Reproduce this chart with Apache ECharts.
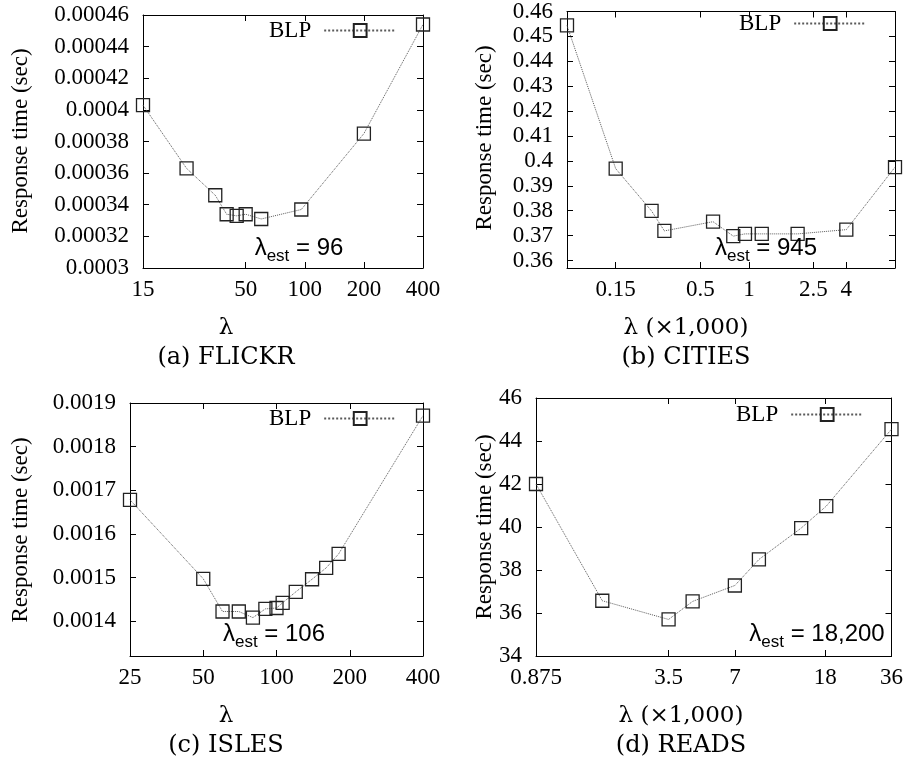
<!DOCTYPE html>
<html>
<head>
<meta charset="utf-8">
<script src="https://cdn.jsdelivr.net/npm/echarts@6/dist/echarts.min.js"></script>
<style>
  html, body { margin: 0; padding: 0; background: #fff; }
  #chart { width: 906px; height: 762px; }
</style>
</head>
<body>
<div id="chart"></div>
<script>
// (a) FLICKR
const flickrLambda = [15, 25, 35, 40, 45, 50, 60, 96, 200, 400];
const flickrTime = [0.000403, 0.000363, 0.000346, 0.000334, 0.000333, 0.000334, 0.000331, 0.000337, 0.000385, 0.000454];
const flickrXTicks = [15, 50, 100, 200, 400];
const flickrYTicks = [0.0003, 0.00032, 0.00034, 0.00036, 0.00038, 0.0004, 0.00042, 0.00044, 0.00046];

// (b) CITIES, lambda in thousands
const citiesLambda = [0.075, 0.15, 0.25, 0.3, 0.6, 0.8, 0.945, 1.2, 2, 4, 8];
const citiesTime = [0.4544, 0.3969, 0.3799, 0.3719, 0.3756, 0.3698, 0.3707, 0.3707, 0.3707, 0.3724, 0.3975];
const citiesXTicks = [0.15, 0.5, 1, 2.5, 4];
const citiesYTicks = [0.36, 0.37, 0.38, 0.39, 0.4, 0.41, 0.42, 0.43, 0.44, 0.45, 0.46];

// (c) ISLES
const islesLambda = [25, 50, 60, 70, 80, 90, 100, 106, 120, 140, 160, 180, 400];
const islesTime = [0.001678, 0.001497, 0.001422, 0.001422, 0.001408, 0.001428, 0.00143, 0.001442, 0.001467, 0.001496, 0.001522, 0.001554, 0.001871];
const islesXTicks = [25, 50, 100, 200, 400];
const islesYTicks = [0.0014, 0.0015, 0.0016, 0.0017, 0.0018, 0.0019];

// (d) READS, lambda in thousands
const readsLambda = [0.875, 1.75, 3.5, 4.5, 7, 9, 14, 18.2, 36];
const readsTime = [42.0, 36.57, 35.7, 36.54, 37.28, 38.49, 39.95, 40.97, 44.55];
const readsXTicks = [0.875, 3.5, 7, 18, 36];
const readsYTicks = [34, 36, 38, 40, 42, 44, 46];

const seriesName = 'BLP';
const estLabels = ['96', '945', '106', '18,200'];
const captions = ['(a) FLICKR', '(b) CITIES', '(c) ISLES', '(d) READS'];
const xNames = ['λ', 'λ (×1,000)', 'λ', 'λ (×1,000)'];
const yName = 'Response time (sec)';

const SERIF = '"Liberation Serif", "Times New Roman", serif';
const CAPTION_FONT = '"DejaVu Serif", serif';
const SANS = '"Liberation Sans", Arial, sans-serif';

const panels = [
  { lam: flickrLambda, t: flickrTime, xt: flickrXTicks, yt: flickrYTicks, xMin: 15, xMax: 400, yMin: 0.0003, yMax: 0.00046, dec: 5,
    grid: { left: 143, top: 15, width: 280, height: 253 },
    legend: { left: 269, top: 19 }, est: [299, 248], yNamePos: [21, 141], xNamePos: [226, 328], capPos: [226, 358] },
  { lam: citiesLambda, t: citiesTime, xt: citiesXTicks, yt: citiesYTicks, xMin: 0.075, xMax: 8, yMin: 0.357, yMax: 0.46, dec: 2,
    grid: { left: 567, top: 8, width: 328, height: 260 },
    legend: { left: 739, top: 12 }, est: [766, 248], yNamePos: [485, 138], xNamePos: [686, 328], capPos: [686, 358] },
  { lam: islesLambda, t: islesTime, xt: islesXTicks, yt: islesYTicks, xMin: 25, xMax: 400, yMin: 0.00132, yMax: 0.0019, dec: 4,
    grid: { left: 130, top: 403, width: 293, height: 253 },
    legend: { left: 269, top: 407 }, est: [274, 634], yNamePos: [21, 530], xNamePos: [226, 716], capPos: [226, 746] },
  { lam: readsLambda, t: readsTime, xt: readsXTicks, yt: readsYTicks, xMin: 0.875, xMax: 36, yMin: 34, yMax: 46, dec: 0,
    grid: { left: 536, top: 398, width: 357, height: 258 },
    legend: { left: 736, top: 403 }, est: [817, 634], yNamePos: [485, 527], xNamePos: [681, 716], capPos: [681, 746] }
];

function trimNum(v, dec) {
  let s = v.toFixed(dec);
  if (s.indexOf('.') >= 0) s = s.replace(/0+$/, '').replace(/\.$/, '');
  return s;
}

const axisLineStyle = { show: true, onZero: false, lineStyle: { color: '#000', width: 1 } };
const tickStyle = (vals) => ({ show: true, inside: true, length: 6, customValues: vals, lineStyle: { color: '#000', width: 1 } });

const grid = [], xAxis = [], yAxis = [], series = [], legend = [], graphic = [];

panels.forEach((p, i) => {
  grid.push(Object.assign({ show: false, containLabel: false }, p.grid));
  const xBase = {
    type: 'log', logBase: 10, gridIndex: i, min: p.xMin, max: p.xMax,
    axisLine: axisLineStyle, splitLine: { show: false }, minorTick: { show: false }
  };
  xAxis.push(Object.assign({}, xBase, {
    position: 'bottom', axisTick: tickStyle(p.xt),
    axisLabel: { show: true, customValues: p.xt, margin: 10, color: '#000', fontFamily: SERIF, fontSize: 23,
      formatter: (v) => String(+v.toPrecision(6)) }
  }));
  xAxis.push(Object.assign({}, xBase, {
    position: 'top', axisTick: tickStyle(p.xt), axisLabel: { show: false }
  }));
  const yBase = {
    type: 'value', gridIndex: i, min: p.yMin, max: p.yMax, scale: true,
    axisLine: axisLineStyle, splitLine: { show: false }
  };
  yAxis.push(Object.assign({}, yBase, {
    position: 'left', axisTick: tickStyle(p.yt),
    axisLabel: { show: true, customValues: p.yt, margin: 14, color: '#000', fontFamily: SERIF, fontSize: 23,
      formatter: (v) => trimNum(v, p.dec) }
  }));
  yAxis.push(Object.assign({}, yBase, {
    position: 'right', axisTick: tickStyle(p.yt), axisLabel: { show: false }
  }));

  series.push({
    name: seriesName, type: 'line', xAxisIndex: 2 * i, yAxisIndex: 2 * i,
    data: p.lam.map((x, k) => [x, p.t[k]]),
    symbol: 'rect', symbolSize: 13, showSymbol: true,
    itemStyle: { color: 'rgba(255,255,255,0)', borderColor: '#222', borderWidth: 1.3 },
    lineStyle: { color: '#5a5a5a', width: 1, type: 'dotted' },
    emphasis: { disabled: true }, silent: true, z: 3
  });

  legend.push({
    data: [seriesName], left: p.legend.left, top: p.legend.top, orient: 'horizontal', align: 'right',
    itemWidth: 72, itemHeight: 16, padding: 0, selectedMode: false,
    textStyle: { fontFamily: SERIF, fontSize: 23, color: '#000', padding: [0, 8, 0, 0] }
  });

  graphic.push({
    type: 'text', x: p.est[0], y: p.est[1], z: 10,
    style: {
      text: '{m|λ}{s|est}{m| = ' + estLabels[i] + '}',
      textAlign: 'center', textVerticalAlign: 'middle',
      rich: {
        m: { fontFamily: SANS, fontSize: 24, color: '#000', lineHeight: 34, verticalAlign: 'middle' },
        s: { fontFamily: SANS, fontSize: 17, color: '#000', lineHeight: 34, verticalAlign: 'bottom' }
      }
    }
  });
  graphic.push({
    type: 'text', x: p.yNamePos[0], y: p.yNamePos[1], rotation: Math.PI / 2,
    style: { text: yName, textAlign: 'center', textVerticalAlign: 'middle', fontFamily: SERIF, fontSize: 23, fill: '#000' }
  });
  graphic.push({
    type: 'text', x: p.xNamePos[0], y: p.xNamePos[1],
    style: { text: xNames[i], textAlign: 'center', textVerticalAlign: 'middle', fontFamily: CAPTION_FONT, fontSize: 23, fill: '#000' }
  });
  graphic.push({
    type: 'text', x: p.capPos[0], y: p.capPos[1],
    style: { text: captions[i], textAlign: 'center', textVerticalAlign: 'middle', fontFamily: CAPTION_FONT, fontSize: 24, fill: '#000' }
  });
});

const chart = echarts.init(document.getElementById('chart'), null, { renderer: 'canvas' });
chart.setOption({
  animation: false,
  backgroundColor: '#fff',
  grid, xAxis, yAxis, series, legend, graphic
});
</script>
</body>
</html>
